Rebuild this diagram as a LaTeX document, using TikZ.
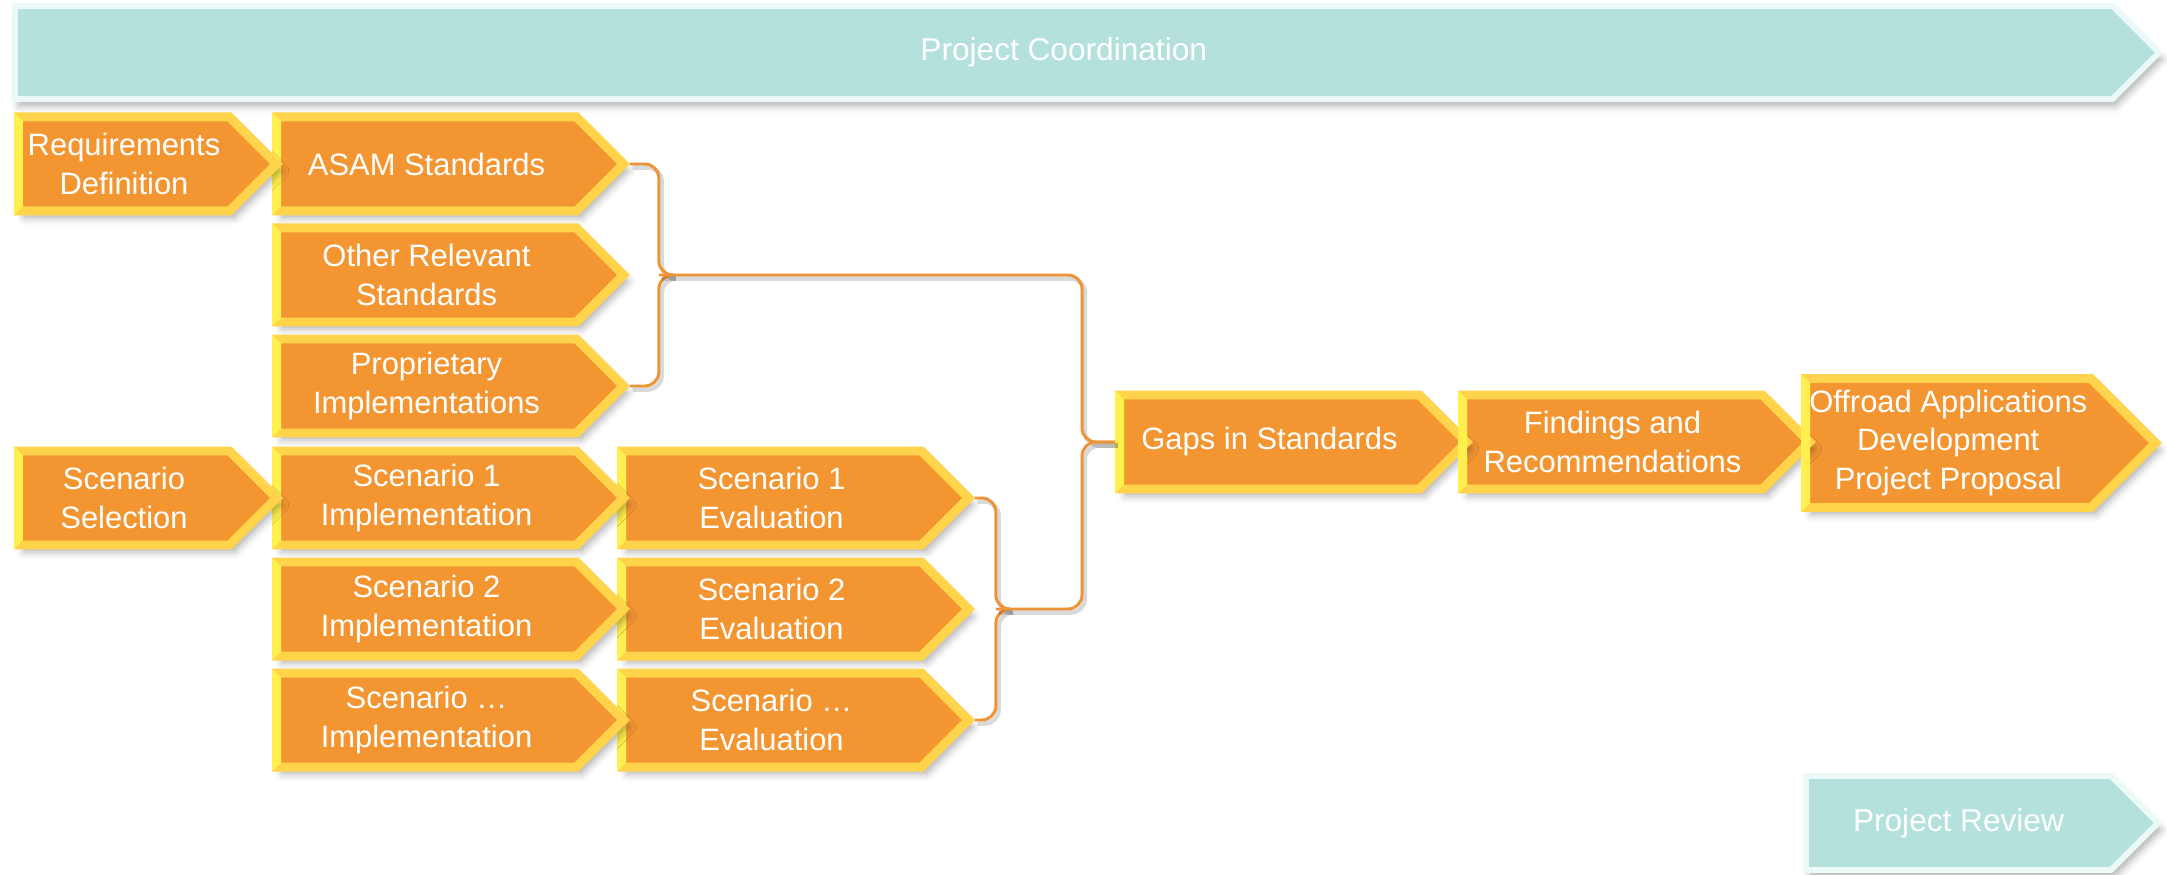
\documentclass[tikz,border=0pt]{standalone}
\usepackage{fontspec}
\setmainfont{Liberation Sans}
\usetikzlibrary{shapes.symbols}
\usetikzlibrary{shadows.blur}
\usetikzlibrary{calc}

\definecolor{taskfill}{HTML}{F39632}
\definecolor{taskband}{HTML}{FFD34A}
\definecolor{taskedge}{HTML}{FFF04E}
\definecolor{trackfill}{HTML}{B4E1DB}
\definecolor{trackband}{HTML}{EBFAF9}
\definecolor{linkcol}{HTML}{EF9436}

\tikzset{
	task/.style={shape=signal, signal to=east, signal pointer angle=90, anchor=west,
		fill=taskfill, draw=taskband, line width=2.56pt, line join=miter,
		text=white, align=center, font=\fontsize{8.8}{10.9}\selectfont,
		minimum width=3.47cm, minimum height=0.94cm, inner sep=0pt,
		blur shadow={shadow xshift=1.5pt, shadow yshift=-2pt, shadow blur radius=2pt, shadow opacity=30}},
	first/.style={task, minimum width=2.58cm},
	track/.style={shape=signal, signal to=east, signal pointer angle=90, anchor=west,
		fill=trackfill, draw=trackband, line width=1.7pt, line join=miter,
		text=white, font=\fontsize{9}{11}\selectfont,
		minimum height=0.93cm, inner sep=0pt,
		blur shadow={shadow xshift=1pt, shadow yshift=-2pt, shadow blur radius=2pt, shadow opacity=30}},
	edge/.style={fill=taskedge},
	link/.style={draw=linkcol, line width=0.85pt, rounded corners=4pt,
		preaction={draw=black, draw opacity=0.15, line width=1.3pt, transform canvas={xshift=0.8pt, yshift=-1pt}}}
}

\begin{document}
\begin{tikzpicture}

	\useasboundingbox (0,0) rectangle (21.67,-8.75);

	%coordination bar on top, review at the bottom
	\node[track, minimum width=21.44cm] (coord) at (0.12,-0.525) {Project Coordination};
	\node[track, minimum width=3.52cm, minimum height=0.94cm] (review) at (18.03,-8.23) {Project Review};

	%outcome chain
	\node[task, minimum width=3.50cm, minimum height=1.29cm] (offroad) at (18.01,-4.43) {Offroad Applications\\Development\\Project Proposal};
	\node[task] (findings) at (14.58,-4.42) {Findings and\\Recommendations};
	\node[task] (gaps) at (11.15,-4.42) {Gaps in Standards};

	%scenario evaluations
	\node[task] (eval1) at (6.17,-4.98) {Scenario 1\\Evaluation};
	\node[task] (eval2) at (6.17,-6.09) {Scenario 2\\Evaluation};
	\node[task] (evaln) at (6.17,-7.20) {Scenario \dots\\Evaluation};

	\foreach \n in {offroad,findings,gaps,eval1,eval2,evaln}
		\fill[edge] (\n.west |- \n.north) -- (\n.west |- \n.south) -- ++(0.09,0.09) -- ($(\n.west |- \n.north)+(0.09,-0.09)$) -- cycle;

	%standards and scenario implementations
	\node[task] (asam) at (2.72,-1.64) {ASAM Standards};
	\node[task] (other) at (2.72,-2.75) {Other Relevant\\Standards};
	\node[task] (prop) at (2.72,-3.86) {Proprietary\\Implementations};
	\node[task] (impl1) at (2.72,-4.98) {Scenario 1\\Implementation};
	\node[task] (impl2) at (2.72,-6.09) {Scenario 2\\Implementation};
	\node[task] (impln) at (2.72,-7.20) {Scenario \dots\\Implementation};

	\foreach \n in {asam,other,prop,impl1,impl2,impln}
		\fill[edge] (\n.west |- \n.north) -- (\n.west |- \n.south) -- ++(0.09,0.09) -- ($(\n.west |- \n.north)+(0.09,-0.09)$) -- cycle;

	%starting points
	\node[first] (req) at (0.14,-1.64) {Requirements\\Definition};
	\node[first] (sel) at (0.14,-4.98) {Scenario\\Selection};

	\foreach \n in {req,sel}
		\fill[edge] (\n.west |- \n.north) -- (\n.west |- \n.south) -- ++(0.09,0.09) -- ($(\n.west |- \n.north)+(0.09,-0.09)$) -- cycle;

	%brace spines
	\coordinate (sb) at ($(other.east)+(0.29,0)$);
	\coordinate (eb) at ($(eval2.east)+(0.21,0)$);
	\coordinate (gb) at ($(gaps.west)+(-0.33,0)$);

	%standards brace
	\draw[link] (asam.east) -| (sb) -- ++(0.12,0);
	\draw[link] (prop.east) -| (sb) -- ++(0.12,0);
	\draw[link] (sb) -| (gb) -- (gaps.west);

	%evaluation brace
	\draw[link] (eval1.east) -| (eb) -- ++(0.12,0);
	\draw[link] (evaln.east) -| (eb) -- ++(0.12,0);
	\draw[link] (eb) -| (gb) -- (gaps.west);

\end{tikzpicture}
\end{document}
